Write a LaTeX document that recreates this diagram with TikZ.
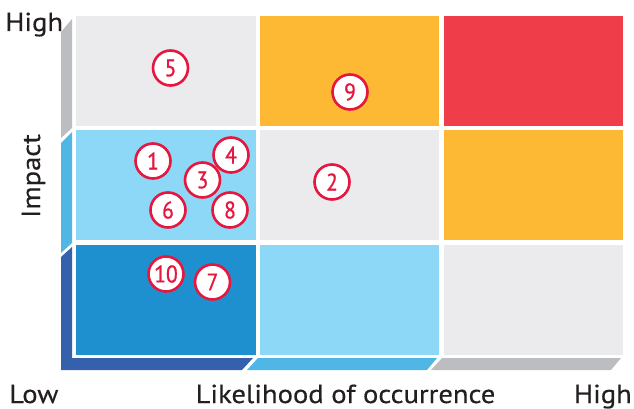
\documentclass[tikz,border=0pt]{standalone}
\usepackage{fontspec}
\setmainfont[FakeStretch=1.1,FakeBold=0.4]{PT Sans}
\newfontfamily\numfont[FakeStretch=0.9,FakeBold=0.8]{PT Sans}
\definecolor{cgray}{HTML}{EBEBED}
\definecolor{corange}{HTML}{FDB933}
\definecolor{cred}{HTML}{EF3E4A}
\definecolor{clblue}{HTML}{8DD7F7}
\definecolor{cdblue}{HTML}{1E90CF}
\definecolor{bgray}{HTML}{BCBDC0}
\definecolor{bblue}{HTML}{4FB6E6}
\definecolor{bdblue}{HTML}{3561AC}
\definecolor{mred}{HTML}{E5173F}
\definecolor{txt}{HTML}{231F20}
\begin{document}
\begin{tikzpicture}[x=1pt,y=-1pt,
  cell/.style={inner sep=0pt, minimum width=179.5pt, minimum height=110pt},
  risk/.style={circle, draw=mred, line width=2.6pt, fill=white, text=mred,
    inner sep=0pt, minimum size=35pt, font=\numfont\fontsize{24}{24}\selectfont},
  lbl/.style={text=txt, inner sep=0pt, font=\fontsize{26}{26}\selectfont}]
\useasboundingbox (0,0) rectangle (634,409);
% white frame
\fill[white] (72,12) rectangle (627,358);
% cells
\node[cell, fill=cgray]   (c11) at (166,71) {};
\node[cell, fill=corange] (c12) at (349.5,71) {};
\node[cell, fill=cred]    (c13) at (533.5,71) {};
\node[cell, fill=clblue]  (c21) at (166,185) {};
\node[cell, fill=cgray]   (c22) at (349.5,185) {};
\node[cell, fill=corange] (c23) at (533.5,185) {};
\node[cell, fill=cdblue]  (c31) at (166,299.5) {};
\node[cell, fill=clblue]  (c32) at (349.5,299.5) {};
\node[cell, fill=cgray]   (c33) at (533.5,299.5) {};
% side bars
\fill[bgray]  (61,32) -- (72,19) -- (72,128) -- (61,138) -- cycle;
\fill[bblue]  (61,143) -- (72,132) -- (72,243) -- (61,253) -- cycle;
\fill[bdblue] (61,257) -- (72,247) -- (72,358) -- (253,358) -- (242,370) -- (61,370) -- cycle;
\fill[bblue]  (247,370) -- (258,358) -- (437,358) -- (427,370) -- cycle;
\fill[bgray]  (431,370) -- (442,358) -- (621,358) -- (611,370) -- cycle;
% risk markers
\node[risk] (r5) at (170.5,68) {5};
\node[risk] (r9) at (350,92) {9};
\node[risk] (r1) at (153,161) {1};
\node[risk] (r4) at (231,155) {4};
\node[risk] (r3) at (202.5,180) {3};
\node[risk] (r2) at (332,182) {2};
\node[risk] (r6) at (168,210) {6};
\node[risk] (r8) at (230,210) {8};
\node[risk] (r10) at (166,274) {10};
\node[risk] (r7) at (212.5,282) {7};
% labels
\node[lbl, anchor=base west] (hi) at (5,31) {High};
\node[lbl, rotate=90, anchor=base] (imp) at (40,176) {Impact};
\node[lbl, anchor=base west] (low) at (9,403) {Low};
\node[lbl, anchor=base] (lik) at (345.5,403) {Likelihood of occurrence};
\node[lbl, anchor=base east] (hi2) at (632,403) {High};
\end{tikzpicture}
\end{document}
